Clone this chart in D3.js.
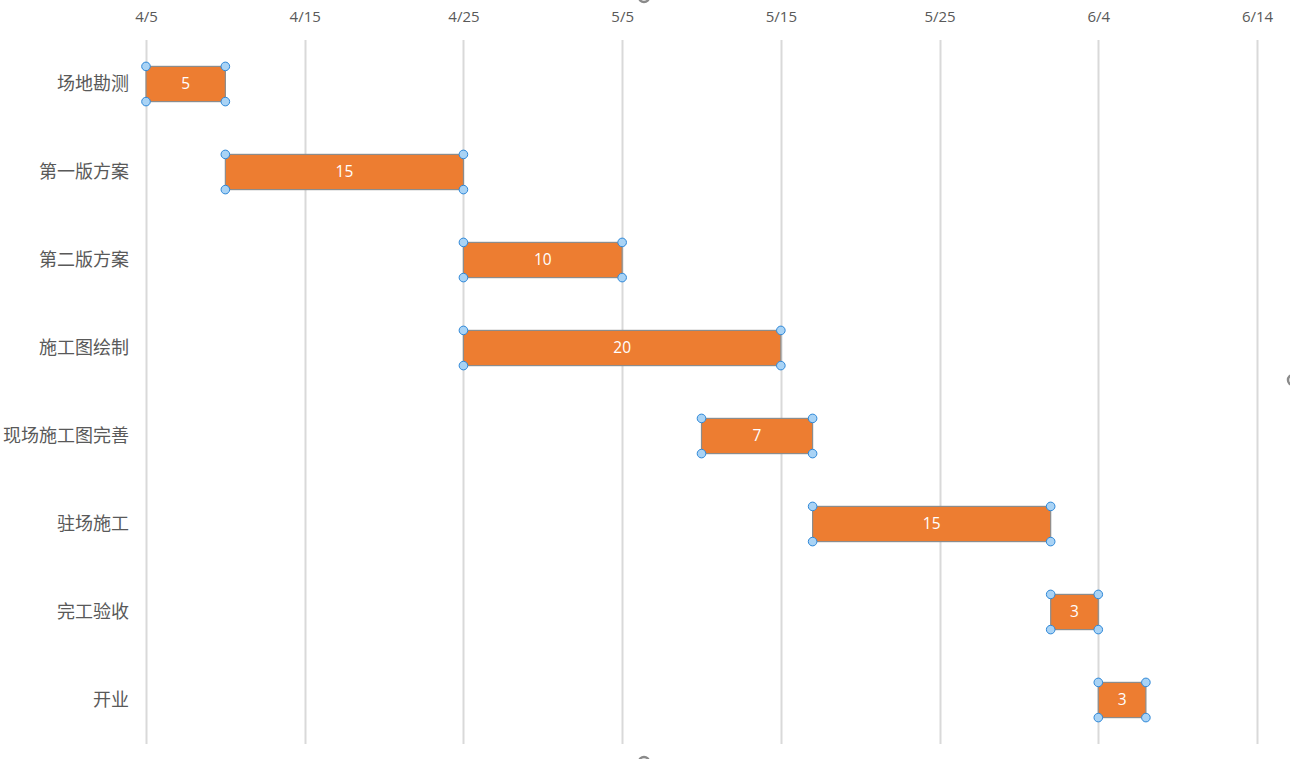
<!DOCTYPE html>
<html>
<head>
<meta charset="utf-8">
<script src="https://cdn.jsdelivr.net/npm/d3@7"></script>
<style>
  html, body { margin: 0; padding: 0; background: #fff; }
  svg { display: block; }
</style>
</head>
<body>
<svg id="chart" width="1290" height="759"></svg>
<script>
const tasks = ["场地勘测", "第一版方案", "第二版方案", "施工图绘制", "现场施工图完善", "驻场施工", "完工验收", "开业"];
const startDates = ["2019-04-05", "2019-04-10", "2019-04-25", "2019-04-25", "2019-05-10", "2019-05-17", "2019-06-01", "2019-06-04"];
const durations = [5, 15, 10, 20, 7, 15, 3, 3];
const tickDates = ["2019-04-05", "2019-04-15", "2019-04-25", "2019-05-05", "2019-05-15", "2019-05-25", "2019-06-04", "2019-06-14"];
const tickLabels = ["4/5", "4/15", "4/25", "5/5", "5/15", "5/25", "6/4", "6/14"];

const DAY = 86400000;
const parse = d3.utcParse("%Y-%m-%d");
const svg = d3.select("#chart");

const x = d3.scaleUtc()
  .domain([parse(tickDates[0]), parse(tickDates[tickDates.length - 1])])
  .range([146, 1257]);
const y = d3.scaleBand().domain(tasks).range([40, 744]).padding(0);
const barH = y.bandwidth() * 0.4;

const cjk = "'Noto Sans CJK SC', 'Noto Sans', sans-serif";
const latin = "'Open Sans', 'Noto Sans', sans-serif";

// gridlines
svg.append("g").selectAll("line").data(tickDates).join("line")
  .attr("x1", d => Math.round(x(parse(d))) + 0.5)
  .attr("x2", d => Math.round(x(parse(d))) + 0.5)
  .attr("y1", 40).attr("y2", 744)
  .attr("stroke", "#d9d9d9").attr("stroke-width", 2);

// top axis labels
const xAxis = d3.axisTop(x)
  .tickValues(tickDates.map(parse))
  .tickFormat((d, i) => tickLabels[i])
  .tickSize(0).tickPadding(0);
const gx = svg.append("g").attr("transform", "translate(0,22)").call(xAxis);
gx.select(".domain").remove();
gx.selectAll("text")
  .attr("y", 0).attr("dy", 0)
  .attr("fill", "#595959")
  .style("font-family", latin).style("font-size", "15px");

// y labels
const yAxis = d3.axisLeft(y).tickSize(0).tickPadding(0);
const gy = svg.append("g").attr("transform", "translate(129,0)").call(yAxis);
gy.select(".domain").remove();
gy.selectAll("text")
  .attr("fill", "#595959")
  .style("font-family", cjk).style("font-size", "18px");

const data = tasks.map((t, i) => {
  const s = parse(startDates[i]);
  return { task: t, start: s, end: new Date(s.getTime() + durations[i] * DAY), dur: durations[i] };
});

const bars = svg.append("g").selectAll("g").data(data).join("g");
bars.append("rect")
  .attr("x", d => x(d.start))
  .attr("y", d => y(d.task) + (y.bandwidth() - barH) / 2)
  .attr("width", d => x(d.end) - x(d.start))
  .attr("height", barH)
  .attr("fill", "#ED7D31")
  .attr("stroke", "#8c8c8c").attr("stroke-width", 1.2);
bars.append("text")
  .attr("x", d => (x(d.start) + x(d.end)) / 2)
  .attr("y", d => y(d.task) + y.bandwidth() / 2)
  .attr("dy", "0.35em")
  .attr("text-anchor", "middle")
  .attr("fill", "#ffffff")
  .style("font-family", latin).style("font-size", "15.5px")
  .text(d => d.dur);

// selection handles
const handles = [];
data.forEach(d => {
  const y0 = y(d.task) + (y.bandwidth() - barH) / 2;
  [x(d.start), x(d.end)].forEach(hx => {
    [y0, y0 + barH].forEach(hy => handles.push([hx, hy]));
  });
});
svg.append("g").selectAll("circle").data(handles).join("circle")
  .attr("cx", d => d[0]).attr("cy", d => d[1]).attr("r", 4.3)
  .attr("fill", "#a9d3f5").attr("stroke", "#2f88d8").attr("stroke-width", 1);

// chart-area handles (partially visible)
svg.append("g").selectAll("circle").data([[644, -3], [644, 762], [1293, 380]]).join("circle")
  .attr("cx", d => d[0]).attr("cy", d => d[1]).attr("r", 5)
  .attr("fill", "#fff").attr("stroke", "#8a8a8a").attr("stroke-width", 2.5);
</script>
</body>
</html>
